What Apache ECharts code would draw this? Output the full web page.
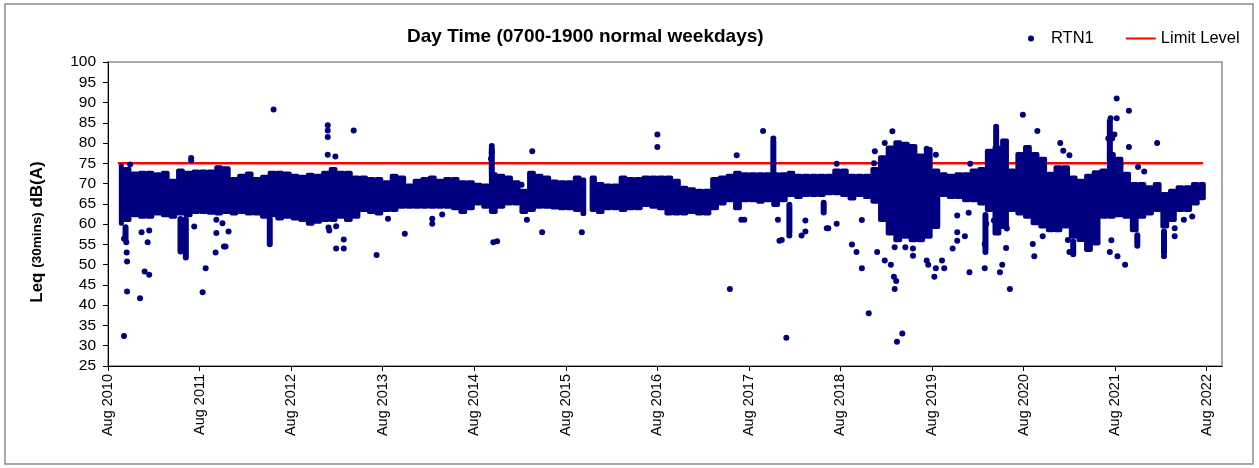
<!DOCTYPE html>
<html><head><meta charset="utf-8">
<script src="https://cdn.jsdelivr.net/npm/echarts@6/dist/echarts.min.js"></script>
<style>html,body{margin:0;padding:0;background:#fff}#c{width:1259px;height:468px}</style>
</head><body><div id="c"></div>
<script>
// x values are months since Aug 2010
const xTickLabels = ['Aug 2010','Aug 2011','Aug 2012','Aug 2013','Aug 2014','Aug 2015','Aug 2016','Aug 2017','Aug 2018','Aug 2019','Aug 2020','Aug 2021','Aug 2022'];
const xTickMonths = [0,12,24,36,48,60,72,84,96,108,120,132,144];
const limitLevel = 75;
const limitStart = 1.3;
const limitEnd = 143.5;

// dense core band of RTN1 readings: start month of each slot, top and bottom of the cloud
const bandMonth = [1.5,2,3,4,5,6,7,8,9,10,11,12,13,14,15,16,17,18,19,20,21,22,23,24,25,26,27,28,29,30,31,32,33,34,35,36,37,38,39,40,41,42,43,44,45,46,47,48,49,50,51,52,53,54,55,56,57,58,59,60,61,62,62.6,63.2,64,65,66,67,68,69,70,71,72,73,74,75,76,77,78,79,80,81,82,83,84,85,86,87,88,89,90,91,92,93,94,95,96,97,98,99,100,101,102,103,104,105,106,107,108,109,110,111,112,113,114,115,116,117,118,119,120,121,122,123,124,125,126,127,128,129,130,131,132,133,134,135,136,137,138,139,140,141,142,143,143.8];
const bandHigh = [74.9,74.1,73.0,73.2,73.2,72.8,73.2,71.2,73.7,73.2,73.5,73.5,73.5,74.5,74.3,71.6,72.4,73.0,71.6,72.2,73.2,73.2,73.0,72.4,72.2,72.7,72.4,73.2,74.1,73.2,73.2,72.0,72.0,71.6,71.6,70.8,72.4,72.0,70.0,71.2,71.6,72.0,71.2,71.6,71.6,70.8,70.8,70.2,70.0,72.8,72.4,72.0,70.8,68.7,73.2,72.4,72.0,71.0,70.8,70.8,72.0,71.5,null,72.0,70.4,70.0,70.0,72.0,71.6,71.6,72.0,72.0,72.0,72.0,71.2,69.5,69.1,68.7,68.7,71.6,72.0,72.4,73.2,72.8,72.8,72.8,72.8,72.8,72.8,73.2,72.4,72.4,72.4,72.4,72.4,73.7,73.7,72.4,72.4,72.4,74.1,77.0,79.4,80.7,80.3,79.8,77.4,79.0,73.7,72.8,72.4,72.8,72.8,73.7,74.1,78.6,79.4,81.1,73.7,77.8,79.5,77.8,76.6,72.9,74.5,74.5,72.0,71.2,72.4,73.3,73.7,77.8,76.6,72.9,70.4,70.4,69.6,70.4,67.9,68.7,69.6,69.6,70.4,70.4,null];
const bandLow = [59.6,60.5,61.7,61.3,61.3,62.1,61.7,61.3,62.1,61.7,62.5,62.5,62.3,62.1,62.5,62.1,62.5,62.1,62.1,61.3,61.7,60.9,61.3,60.9,60.5,59.6,60.1,60.5,60.5,61.3,60.5,61.3,63.0,62.5,62.1,63.0,63.0,63.8,63.8,63.8,63.8,63.8,63.8,63.8,63.4,62.5,63.4,64.6,63.8,62.5,63.8,64.6,64.6,62.5,63.0,63.8,63.8,63.6,63.4,63.4,63.0,62.0,null,63.0,62.5,63.4,63.4,63.0,63.4,63.4,64.2,63.8,63.4,62.1,62.1,62.1,62.5,62.1,62.1,63.4,64.6,65.4,63.4,65.4,65.4,65.0,65.4,64.2,65.4,66.7,66.2,66.7,66.7,66.7,67.1,67.1,66.7,65.8,66.7,66.2,65.0,60.5,57.2,55.5,56.4,55.5,55.5,56.4,58.8,66.7,66.2,66.2,65.4,65.4,64.6,63.0,57.2,58.8,63.0,62.1,61.3,59.7,58.9,58.0,58.0,58.9,56.4,55.6,53.1,54.7,61.3,61.3,61.7,61.3,58.0,61.3,62.1,63.0,58.9,60.5,63.0,63.0,64.6,65.9,null];

// narrow vertical runs of readings: month, top level, bottom level
const streakMonth  = [9.5, 10.2, 21.2, 50.3, 87.2, 89.3, 93.8, 116.4, 126.5, 131.3, 134.9, 138.4, 115.0, 2.3];
const streakTop    = [62.0, 62.0, 62.0, 79.3, 81.1, 65.5, 66.0, 84.0, 56.4, 86.1, 58.0, 58.9, 63.0, 60.0];
const streakBottom = [52.5, 51.0, 54.3, 72.0, 72.0, 57.2, 62.1, 78.0, 51.8, 75.0, 53.9, 52.2, 53.0, 55.5];

// individual RTN1 readings outside the dense band: [month, dB(A)]
const rtn1Points = [[2.1,32.4],[2.5,43.4],[2.5,50.8],[2.45,53.0],[2.4,55.5],[2.1,56.4],[2.9,74.7],
[4.2,41.7],[4.8,48.3],[5.4,47.5],[5.2,55.5],[5.4,58.4],[4.4,58.0],
[12.4,43.2],[12.8,49.1],[14.1,53.0],[14.2,57.8],[15.2,54.5],[15.4,54.5],[15.8,58.2],[15.0,60.2],[14.2,61.1],[11.3,59.4],
[10.9,76.3],[10.9,75.7],[21.7,88.3],
[28.8,84.4],[28.8,83.1],[28.8,81.5],[28.8,77.1],[29.8,76.7],[32.2,83.1],
[29.0,58.4],[28.9,59.2],[29.9,59.5],[29.9,54.0],[30.9,54.0],[30.9,56.2],[35.2,52.4],[36.7,61.3],[38.9,57.6],[42.5,60.1],[42.5,61.3],[43.8,62.4],
[50.3,79.3],[50.3,77.6],[50.2,76.1],[50.5,55.5],[51.0,55.8],[54.2,69.7],[55.6,78.0],[56.9,58.0],[54.9,61.1],
[62.1,58.0],[72.0,82.1],[72.0,79.0],[82.4,77.0],[81.5,44.0],[85.85,83.0],[87.2,81.1],[83.0,61.1],[83.4,61.1],[87.8,61.1],[88.0,55.9],
[88.9,32.0],[88.3,56.1],[89.3,57.2],[90.9,57.2],[91.4,58.2],[91.4,60.9],[94.2,59.0],[94.4,59.0],[95.5,60.1],[95.5,74.9],[97.5,55.0],[98.1,53.1],[98.8,49.1],[98.8,61.0],[99.7,38.0],[100.5,78.0],[100.4,75.0],[101.8,80.0],[102.8,82.9],[100.8,53.1],[101.8,51.0],[102.6,50.0],[103.0,47.0],[103.3,46.0],[103.1,44.0],[103.4,31.0],[104.1,33.0],[103.1,54.3],[104.5,54.3],[105.5,54.0],[105.5,52.2],[107.3,51.0],[107.5,50.0],[108.5,49.1],[108.3,47.0],[109.6,49.1],[109.3,51.0],[107.3,78.6],[108.5,77.1],[110.7,54.0],[111.3,58.0],[111.3,55.9],[111.3,62.1],[112.3,57.0],[112.9,48.1],[112.8,62.8],[113.0,74.9],[114.9,55.1],[115.0,53.1],[114.9,49.1],[115.1,60.1],[116.1,60.9],[116.9,48.1],[117.2,50.0],[116.4,84.0],
[119.9,87.0],[121.8,83.0],[124.8,80.0],[126.0,77.0],[125.2,78.1],[118.2,44.0],[121.4,52.1],[121.2,55.1],[126.0,53.1],[125.8,56.1],[132.2,91.0],[131.4,86.1],[132.2,86.1],[133.8,88.0],[133.8,79.0],[131.1,81.1],[131.6,81.1],[131.9,82.1],[137.5,80.0],[135.0,74.1],[135.8,73.0],[133.3,50.0],[132.3,52.1],[131.3,53.1],[131.5,56.0],[138.4,52.1],[139.8,57.0],[139.8,59.0],[141.0,61.1],[142.1,61.9],[122.5,57.0],[117.8,58.9],[117.7,54.1]];

const NAVY = '#000080';
const FONT = 'Liberation Sans, Arial, sans-serif';

const bandData = [];
for (let i = 0; i < bandMonth.length - 1; i++) {
  if (bandHigh[i] == null) continue;
  bandData.push([bandMonth[i], bandMonth[i+1], bandHigh[i], bandLow[i]]);
}
const streakData = streakMonth.map((m, i) => [m, streakTop[i], streakBottom[i]]);

const chart = echarts.init(document.getElementById('c'), null, {renderer: 'canvas'});
chart.setOption({
  animation: false,
  backgroundColor: '#fff',
  textStyle: {fontFamily: FONT},
  title: {
    text: 'Day Time (0700-1900 normal weekdays)',
    left: 402, top: 22,
    textStyle: {fontFamily: FONT, fontWeight: 'bold', fontSize: 19, color: '#000'}
  },
  legend: {
    left: 1028, top: 30, width: 240, padding: 0,
    itemWidth: 30, itemHeight: 6, itemGap: 32,
    textStyle: {fontFamily: FONT, fontSize: 16.5, color: '#000'},
    data: [{name: 'RTN1', icon: 'circle'}, {name: 'Limit Level', icon: 'path://M0,0H30V2H0Z'}]
  },
  grid: {left: 108, top: 62, right: 37, bottom: 102, show: true, borderColor: '#8c8c8c', borderWidth: 1.5, backgroundColor: 'transparent'},
  xAxis: {
    type: 'value', min: 0, max: 146, interval: 12,
    axisLine: {show: true, lineStyle: {color: '#000', width: 1}},
    axisTick: {show: true, length: 5, lineStyle: {color: '#000'}, customValues: xTickMonths},
    splitLine: {show: false},
    axisLabel: {
      rotate: 90, margin: 8, fontSize: 14.5, color: '#000', fontFamily: FONT,
      customValues: xTickMonths,
      formatter: v => xTickLabels[Math.round(v / 12)]
    }
  },
  yAxis: {
    type: 'value', min: 25, max: 100, interval: 5,
    axisLine: {show: true, lineStyle: {color: '#000', width: 1}},
    axisTick: {show: true, length: 5, lineStyle: {color: '#000'}},
    splitLine: {show: false},
    axisLabel: {margin: 12, fontSize: 15.5, color: '#000', fontFamily: FONT}
  },
  graphic: [
    {type: 'rect', shape: {x: 5, y: 4, width: 1248, height: 460}, style: {fill: 'none', stroke: '#8c8c8c', lineWidth: 1.5}, silent: true, z: -10},
    {type: 'text', x: 37, y: 232, rotation: Math.PI / 2,
     style: {text: '{a|Leq }{b|(30mins)}{a| dB(A)}', textAlign: 'center', textVerticalAlign: 'middle',
       rich: {a: {fontFamily: FONT, fontWeight: 'bold', fontSize: 17, fill: '#000'},
              b: {fontFamily: FONT, fontWeight: 'bold', fontSize: 13.5, fill: '#000'}}}}
  ],
  series: [
    {
      name: 'Limit Level', type: 'line', symbol: 'none', z: 1,
      lineStyle: {color: '#ff0000', width: 2.5}, itemStyle: {color: '#ff0000'},
      data: [[limitStart, limitLevel], [limitEnd, limitLevel]]
    },
    {
      name: 'band', type: 'custom', z: 2, silent: true,
      encode: {x: [0, 1], y: [2, 3]},
      renderItem: (params, api) => {
        const p1 = api.coord([api.value(0), api.value(2)]);
        const p2 = api.coord([api.value(1), api.value(3)]);
        return {type: 'rect', shape: {x: p1[0] - 0.6, y: p1[1], width: p2[0] - p1[0] + 1.2, height: p2[1] - p1[1], r: 2}, style: {fill: NAVY}};
      },
      data: bandData
    },
    {
      name: 'streak', type: 'custom', z: 2, silent: true,
      encode: {x: 0, y: [1, 2]},
      renderItem: (params, api) => {
        const p1 = api.coord([api.value(0), api.value(1)]);
        const p2 = api.coord([api.value(0), api.value(2)]);
        return {type: 'rect', shape: {x: p1[0] - 3, y: Math.min(p1[1], p2[1]), width: 6, height: Math.abs(p2[1] - p1[1]), r: 3}, style: {fill: NAVY}};
      },
      data: streakData
    },
    {
      name: 'RTN1', type: 'scatter', z: 3, symbol: 'circle', symbolSize: 6,
      itemStyle: {color: NAVY, opacity: 1},
      data: rtn1Points
    }
  ]
});
</script></body></html>
